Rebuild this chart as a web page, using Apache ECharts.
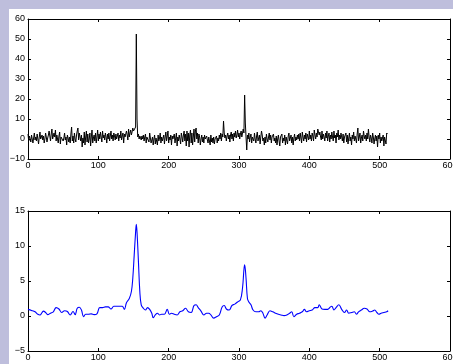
<!DOCTYPE html>
<html>
<head>
<meta charset="utf-8">
<script src="https://cdn.jsdelivr.net/npm/echarts@6/dist/echarts.min.js"></script>
<style>html,body{margin:0;padding:0;background:#bebedc;}#c{width:453px;height:364px;}</style>
</head>
<body>
<div id="c"></div>
<script>
// Top panel: raw noisy signal, samples 0..511
var rawSignal = [
2.5,-1,1.5,0,-1.5,2,1,-2,0.5,3,-0.5,1,-1,2.5,0,-2.5,1,3.5,0,-1,2,-0.5,1.5,-2,0,3,1,-1.5,0.5,2,4,1.5,
-1,2.5,5,0,-0.5,3,1,4.5,-1,2,0,-2,1.5,3.5,-2.5,1,0,2,-1,0.5,3,-0.5,1,-3,2,0.5,-1.5,1,-2,2.5,6,-1,
1.5,-2,3,0,-1.5,2,4,5.5,-0.5,3,1,-1,2,-4,0.5,-2,3.5,-3,1,4,-1.5,2.5,-2,0,3,-3.5,1,4.5,-2,0.5,2,-1,
3,-2,1,4.5,-1,2.5,0,3.5,1,-1.5,4,0.5,2,-0.5,3,1,-2,2.5,0,3,-1,1.5,4,0,2,-1,3,1.5,-0.5,2.5,0,1,
3,-1,2,0.5,4,-0.5,1.5,3,-2,2.5,1,0,4,2,-0.5,5,1,3,4.5,2,3.5,5.5,4,3,5,6,52.5,10,1,2.5,0,1.5,
2,-0.5,1.5,0,2,-1,1,2.5,-2,1,0,2,-1.5,3,0.5,-2,-1,1,-3,0,2,-2.5,0.5,1,-3,2,-1,0.5,3,-2,1,-1,
0,2,-2.5,1,3.5,-1,0,4,-2,1,-0.5,2,-3,1.5,0,-1,2.5,-2,0.5,3,-3.5,1,-1,2,0,-2.5,3,1,-1.5,2,4,-1,
2.5,-3.5,4,-1,3,-4,2,4.5,-2,3,-3,1,5,-1.5,4,5.5,0,3,-2,2.5,1,-3,0,2,-1.5,1,-2,2,0,-1,1.5,-0.5,
-2,1,0,-3,2,-1.5,0.5,-2,1,-2.5,0,-1,1.5,-2,0.5,-1,2,0,3,-1,2.5,1,9,3,0.5,2,-1,1.5,3,0,2,-1.5,
2,3.5,0,2.5,-1,3,1,4,0.5,2,4.5,1,3,0,2.5,4,1,3,5,3,22,8,1,-5.5,2,0,3,-1.5,1,2.5,-2,1,
2,-1,3,0,-2,1.5,3.5,-1,0.5,2,-2.5,1,4,2,-1,0.5,-3,1,-2,2.5,0,-1.5,1,3,-0.5,2,-2,1,0,2.5,-1,0.5,
-2,1.5,-3,0,2,-1,-3.5,1,0,2.5,-2,0.5,-1,2,-3,1,0,-2.5,1.5,3,-1,0,2,-2,1,-3,0.5,2.5,-1,1,-0.5,2,
0,2.5,-1,3,0.5,-2,3.5,1,-1,2,0,3,-1.5,2.5,1,-0.5,4,0,2,-1,3,1.5,-1,4.5,2,0,3,1,5,6,2,3.5,
1,-0.5,4,0,2.5,1,-1,3,0.5,4,-1,1.5,3,-1.5,2,0,3.5,1,-1,4,0.5,2,-2,3,1,4.5,-0.5,2,0,3,1,-1,
2.5,-2,1,0,3,-1.5,2,-2.5,0.5,3,-1,1,-3,2,0,3.5,-1,1.5,0,-2,2.5,5.5,-1,1,3,-2,0.5,2,-1,4,1.5,0,
2,-1,3,0,5,1,-1.5,2,0.5,-2,3,1,-2.5,0,2,-1,1.5,-4,2,0,3,-2,1,-1,0.5,2,-3.5,1,0,-2.5,3,2.5
];
// Bottom panel: smoothed signal (sample index, value)
var smoothX = [0,5,10,14,17,20,22,25,28,32,36,40,44,48,52,56,60,64,67,70,73,76,79,82,86,90,94,98,102,106,110,114,118,122,126,130,134,137,140,144,147,149,151,153,154,155,157,159,161,164,167,170,173,176,178,181,184,187,190,194,198,201,204,208,212,216,220,224,228,232,236,239,242,246,250,254,257,260,264,268,272,276,279,282,286,290,294,298,302,305,307,308,310,312,314,317,320,324,328,331,334,337,340,344,348,352,356,360,364,368,372,375,378,382,386,390,393,396,400,404,408,412,414,418,422,426,430,432,435,438,442,446,450,453,456,460,464,467,470,474,478,482,486,490,493,496,499,502,506,510,512];
var smoothY = [0.95,0.8,0.6,0.25,0.15,0.5,0.7,0.5,0.2,0.4,0.6,1.2,1.0,0.5,0.75,0.65,0.15,0.65,0.2,1.1,1.25,0.85,-0.1,0.25,0.25,0.3,0.2,0.3,1.2,1.2,1.3,1.3,1.0,1.4,1.4,1.4,1.4,0.95,1.9,2.5,3.5,5.4,8.7,12,13.1,12,7.8,3.5,1.6,1.1,0.85,1.2,0.95,0.4,-0.25,0.15,0.4,0.15,0.25,0.25,0.95,0.25,0.4,0.25,0.15,0.6,0.75,1.1,0.6,0.5,1.5,1.6,1.2,0.7,0.15,0.4,0.4,0.15,-0.3,-0.1,0.15,1.3,1.5,1.0,0.85,1.5,1.7,2.0,2.3,4.0,6.6,7.3,5.4,2.5,2.0,1.6,0.85,0.6,0.6,0.75,0.4,-0.3,0.15,0.75,0.6,0.4,0.25,0.15,0.05,0.15,0.4,0.6,-0.1,0.25,0.4,0.6,0.95,0.6,0.75,0.85,1.2,1.2,1.6,1.0,0.95,0.95,1.3,1.4,0.85,1.2,1.6,0.95,0.5,0.85,0.4,0.5,0.6,0.25,0.6,0.85,1.1,1.0,0.6,0.7,0.85,0.5,0.25,0.4,0.5,0.6,0.75];
var xTicks = [0,100,200,300,400,500,600];
var topYTicks = [-10,0,10,20,30,40,50,60];
var botYTicks = [-5,0,5,10,15];

var chart = echarts.init(document.getElementById('c'), null, {renderer:'canvas'});
var font = {fontFamily:'Liberation Sans, Arial, sans-serif', fontSize:9, color:'#000'};
function fmt(v){ return String(v).replace('-', '\u2212'); }
function xAx(grid, pos, lab){
  return {type:'value', gridIndex:grid, position:pos, min:xTicks[0], max:xTicks[xTicks.length-1], interval:100,
    axisLine:{show:true, onZero:false, lineStyle:{color:'#000', width:1}},
    axisTick:{show:true, inside:true, length:3, lineStyle:{color:'#000'}},
    axisLabel:Object.assign({show:lab, margin:2, formatter:fmt, hideOverlap:false}, font),
    splitLine:{show:false}};
}
function yAx(grid, pos, lab, ticks){
  return {type:'value', gridIndex:grid, position:pos, min:ticks[0], max:ticks[ticks.length-1], interval:ticks[1]-ticks[0],
    axisLine:{show:true, onZero:false, lineStyle:{color:'#000', width:1}},
    axisTick:{show:true, inside:true, length:3, lineStyle:{color:'#000'}},
    axisLabel:Object.assign({show:lab, margin:3, formatter:fmt}, font),
    splitLine:{show:false}};
}
var topData = rawSignal.map(function(v,i){return [i,v];});
var botData = smoothX.map(function(x,i){return [x, smoothY[i]];});
chart.setOption({
  animation:false,
  backgroundColor:'#bebedc',
  graphic:[{type:'rect', shape:{x:9, y:9, width:444, height:355}, style:{fill:'#fff'}, z:-10, silent:true}],
  grid:[{left:28, top:19, width:422, height:140, containLabel:false, outerBoundsMode:'none'},
        {left:28, top:211, width:422, height:140, containLabel:false, outerBoundsMode:'none'}],
  xAxis:[xAx(0,'bottom',true), xAx(0,'top',false), xAx(1,'bottom',true), xAx(1,'top',false)],
  yAxis:[yAx(0,'left',true,topYTicks), yAx(0,'right',false,topYTicks), yAx(1,'left',true,botYTicks), yAx(1,'right',false,botYTicks)],
  series:[
    {type:'line', xAxisIndex:0, yAxisIndex:0, data:topData, showSymbol:false, symbol:'none', sampling:null,
      lineStyle:{color:'#000', width:1}},
    {type:'line', xAxisIndex:2, yAxisIndex:2, data:botData, showSymbol:false, symbol:'none', smooth:0.4,
      lineStyle:{color:'#0000ff', width:1.1}}
  ]
});
</script>
</body>
</html>
